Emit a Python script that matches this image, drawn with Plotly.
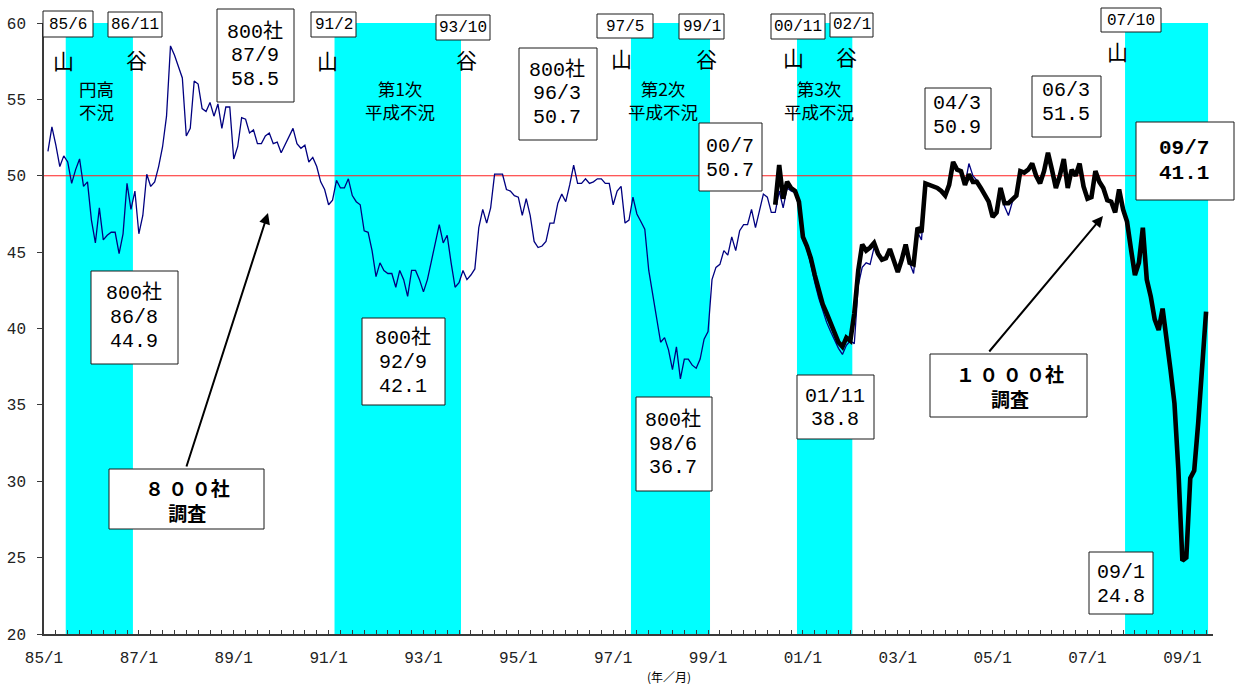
import plotly.graph_objects as go

# ---------------------------------------------------------------- data ----
# 800社調査 DI (monthly, first value = 85/2)
di_800_start = "85/2"
di_800 = [
    51.6, 53.2, 52.0, 50.6, 51.3, 50.9, 49.5, 50.4, 51.1, 49.3, 49.6,          # 1985
    47.1, 45.6, 47.9, 45.8, 46.1, 46.3, 46.3, 44.9, 46.2, 49.5, 47.8, 49.0,    # 1986
    46.2, 47.4, 50.1, 49.3, 49.6, 50.6, 51.9, 53.9, 58.5, 57.9, 57.1, 56.4,    # 1987
    52.6, 53.1, 56.2, 56.0, 54.4, 54.2, 54.8, 53.9, 54.7, 53.1, 54.5, 54.5,    # 1988
    51.1, 51.9, 53.8, 53.7, 52.8, 53.0, 52.1, 52.1, 52.6, 52.8, 52.1, 52.2,    # 1989
    51.5, 52.0, 52.6, 53.1, 52.1, 51.8, 52.0, 50.9, 51.2, 50.6, 49.6, 49.1,    # 1990
    48.1, 48.4, 49.7, 49.2, 49.2, 49.8, 48.7, 48.3, 48.1, 46.4, 46.3, 45.1,    # 1991
    43.4, 44.3, 43.8, 43.6, 43.6, 42.7, 43.8, 43.2, 42.1, 43.8, 43.8, 43.2,    # 1992
    42.4, 43.2, 44.4, 45.7, 46.8, 45.6, 46.1, 44.3, 42.7, 43.0, 43.8, 43.2,    # 1993
    43.5, 43.9, 46.6, 47.8, 46.9, 47.9, 50.1, 50.1, 50.1, 49.1, 49.0, 48.7,    # 1994
    48.6, 47.4, 48.5, 47.4, 45.7, 45.3, 45.4, 45.7, 46.9, 46.9, 48.2, 48.8,    # 1995
    48.3, 49.4, 50.7, 49.5, 49.5, 49.8, 49.5, 49.6, 49.8, 49.8, 49.5, 49.5,    # 1996
    48.1, 49.0, 49.3, 46.9, 47.1, 48.6, 47.5, 47.0, 46.5, 43.8, 42.3, 40.6,    # 1997
    39.1, 39.4, 38.6, 37.3, 38.8, 36.7, 38.0, 38.0, 37.6, 37.4, 38.0, 39.3,    # 1998
    39.8, 43.2, 44.0, 44.2, 45.1, 44.8, 46.0, 45.1, 46.4, 46.8, 46.8, 47.8,    # 1999
    46.6, 47.7, 48.8, 48.6, 47.6, 47.6, 49.0, 47.9, 49.2, 49.0, 48.9, 48.0,    # 2000
    45.8, 45.2, 44.2, 43.0, 42.0, 41.2, 40.4, 39.8, 39.2, 38.7, 38.3, 38.9,    # 2001
    39.2, 39.0, 42.8, 44.0, 44.3, 44.2, 45.3, 44.9, 44.5, 44.6, 45.2, 44.5,    # 2002
    43.7, 44.5, 45.5, 44.3, 43.6, 46.3, 45.8, 49.3, 49.4, 49.3, 49.2, 49.0,    # 2003
    48.7, 49.6, 50.9, 50.4, 50.3, 49.4, 50.8, 50.0, 49.7, 49.2, 48.7, 48.3,    # 2004
    47.3, 47.6, 49.2, 48.0, 47.4, 48.3, 48.7, 50.3, 50.2, 50.4, 50.8, 50.0,    # 2005
]

# 1000社調査 DI (monthly, first value = 00/6)
di_1000_start = "00/6"
di_1000 = [
    48.1, 50.7, 48.5, 49.6, 49.2, 49.0, 48.3,                                  # 2000
    46.0, 45.4, 44.6, 43.5, 42.4, 41.6, 41.0, 40.4, 39.7, 39.1, 38.8, 39.4,    # 2001
    39.2, 41.0, 43.8, 45.5, 45.1, 45.3, 45.6, 44.9, 44.5, 44.6, 45.2, 44.5,    # 2002
    43.7, 44.5, 45.5, 44.3, 44.2, 46.6, 46.3, 49.5, 49.4, 49.3, 49.2, 49.0,    # 2003
    48.7, 49.4, 50.9, 50.4, 50.3, 49.4, 50.1, 49.6, 49.6, 49.2, 48.7, 48.3,    # 2004
    47.3, 47.6, 49.2, 48.2, 48.2, 48.5, 48.7, 50.3, 50.2, 50.4, 50.8, 50.0,    # 2005
    49.5, 50.3, 51.5, 50.4, 49.2, 50.0, 51.1, 49.2, 50.4, 50.0, 50.8, 49.3,    # 2006
    48.5, 48.6, 50.3, 49.6, 49.2, 48.4, 48.3, 47.6, 49.1, 47.8, 47.0, 45.2,    # 2007
    43.5, 44.3, 46.6, 43.2, 42.1, 40.6, 39.9, 41.3, 39.5, 37.3, 35.1, 30.7,    # 2008
    24.8, 25.0, 30.2, 30.7, 33.8, 37.5, 41.1,                                  # 2009
]

# 景気の山(開始)・谷(終了): shaded recession periods
recession_start = ["85/6", "91/2", "97/5", "00/11", "07/10"]
recession_end = ["86/11", "93/10", "99/1", "02/1", "09/7"]

x_tick_labels = ["85/1", "87/1", "89/1", "91/1", "93/1", "95/1", "97/1",
                 "99/1", "01/1", "03/1", "05/1", "07/1", "09/1"]

Y_MIN, Y_MAX = 20, 60


def month_index(label):
    """'yy/m' -> months since 1985/1."""
    yy, mm = (int(v) for v in label.split("/"))
    year = 1900 + yy if yy >= 50 else 2000 + yy
    return (year - 1985) * 12 + (mm - 1)


x_800 = [month_index(di_800_start) + k for k in range(len(di_800))]
x_1000 = [month_index(di_1000_start) + k for k in range(len(di_1000))]

# ------------------------------------------------------------- layout ----
W, H = 1235, 684
ML, MT, MR, MB = 44, 23, 22, 50
PW, PH = W - ML - MR, H - MT - MB
X_END = 295.75

MONO = "Liberation Mono, Noto Sans CJK JP, monospace"
JP = "Noto Sans CJK JP, sans-serif"
AXIS_COLOR = "#3a3a3a"


def fx(px):
    return (px - ML) / PW


def fy(py):
    return (H - MB - py) / PH


fig = go.Figure()

fig.add_trace(go.Scatter(
    x=x_800, y=di_800, mode="lines", name="800社",
    line=dict(color="#000080", width=1.3),
    hoverinfo="skip",
))
fig.add_trace(go.Scatter(
    x=x_1000, y=di_1000, mode="lines", name="1000社",
    line=dict(color="#000000", width=4.6),
    hoverinfo="skip",
))

# recession bands
for s, e in zip(recession_start, recession_end):
    fig.add_shape(type="rect", xref="x", yref="y",
                  x0=month_index(s) + 0.5, x1=month_index(e) + 0.5,
                  y0=Y_MIN, y1=Y_MAX, fillcolor="#00FFFF",
                  line=dict(width=0), layer="below")

# 50 line
fig.add_shape(type="line", xref="x", yref="y", x0=0, x1=X_END, y0=50, y1=50,
              line=dict(color="#FF2020", width=1), layer="below")


def frame(x0, y0, x1, y1):
    fig.add_shape(type="rect", xref="paper", yref="paper",
                  x0=fx(x0), x1=fx(x1), y0=fy(y1), y1=fy(y0),
                  fillcolor="white", line=dict(color="#1a1a1a", width=1),
                  layer="above")


def text(t, cx, cy, size, family=MONO, bold=False, color="black"):
    fig.add_annotation(xref="paper", yref="paper", x=fx(cx), y=fy(cy),
                       text=f"<b>{t}</b>" if bold else t, showarrow=False,
                       xanchor="center", yanchor="middle", align="center",
                       font=dict(family=family, size=size, color=color))


# 山・谷 dates along the top
top_boxes = [
    ("85/6", 43, 11, 93, 37), ("86/11", 108, 12, 162, 37),
    ("91/2", 311, 12, 356, 37), ("93/10", 436, 15, 490, 40),
    ("97/5", 597, 14, 653, 38), ("99/1", 679, 14, 724, 39),
    ("00/11", 771, 14, 825, 39), ("02/1", 830, 13, 873, 37),
    ("07/10", 1101, 8, 1161, 32),
]
for t, x0, y0, x1, y1 in top_boxes:
    frame(x0, y0, x1, y1)
    text(t, (x0 + x1) / 2, (y0 + y1) / 2 + 0.5, 16)

turns = [("山", 63, 60), ("谷", 136, 59), ("山", 327, 60), ("谷", 466, 59),
         ("山", 621, 58), ("谷", 706, 58), ("山", 793, 57), ("谷", 846, 56),
         ("山", 1117, 51)]
for t, cx, cy in turns:
    text(t, cx, cy, 21, family=JP)

names = [("円高<br>不況", 96), ("第1次<br>平成不況", 400),
         ("第2次<br>平成不況", 663), ("第3次<br>平成不況", 819)]
for t, cx in names:
    text(t, cx, 100, 17.5, family=JP)

# value call-outs
callouts = [
    (["800社", "87/9", "58.5"], (217, 9, 294, 102), [32, 56, 80], 255),
    (["800社", "86/8", "44.9"], (91, 271, 178, 364), [293, 317, 341], 134),
    (["800社", "92/9", "42.1"], (362, 318, 445, 405), [338, 362, 386], 403),
    (["800社", "96/3", "50.7"], (519, 48, 597, 140), [70, 94, 118], 557),
    (["800社", "98/6", "36.7"], (636, 397, 712, 491), [420, 444, 468], 673),
    (["00/7", "50.7"], (699, 123, 762, 191), [146, 170], 730),
    (["01/11", "38.8"], (797, 375, 874, 439), [396, 420], 835),
    (["04/3", "50.9"], (925, 88, 991, 149), [103, 127], 957),
    (["06/3", "51.5"], (1032, 76, 1101, 137), [91, 115], 1066),
    (["09/1", "24.8"], (1089, 552, 1153, 614), [572, 596], 1121),
]
for lines, (x0, y0, x1, y1), ys, cx in callouts:
    frame(x0, y0, x1, y1)
    for t, cy in zip(lines, ys):
        text(t, cx, cy, 20)

frame(1136, 122, 1234, 200)
text("09/7", 1184, 148, 21, bold=True)
text("41.1", 1184, 174, 21, bold=True)

# survey labels with arrows
frame(109, 469, 264, 529)
text("８ ０ ０社<br>調査", 187, 500, 19, family=JP, bold=True)
frame(930, 354, 1087, 417)
text("１ ０ ０ ０社<br>調査", 1010, 386, 19, family=JP, bold=True)

for (tx, ty), (sx, sy) in [((268, 213), (186, 468)), ((1103, 216), (988, 353))]:
    fig.add_annotation(xref="paper", yref="paper", x=fx(tx), y=fy(ty),
                       ax=sx - tx, ay=sy - ty, axref="pixel", ayref="pixel",
                       text="", showarrow=True, arrowhead=2, arrowsize=1.1,
                       arrowwidth=2, arrowcolor="black", standoff=0)

text("(年／月)", 669, 676, 12, family=JP)

fig.update_layout(
    width=W, height=H,
    margin=dict(l=ML, r=MR, t=MT, b=MB, pad=0, autoexpand=False),
    paper_bgcolor="white", plot_bgcolor="white",
    showlegend=False,
    xaxis=dict(
        range=[0, X_END], showgrid=False, zeroline=False, automargin=False,
        showline=True, linecolor=AXIS_COLOR, linewidth=1.5,
        tickmode="array", tickvals=[month_index(t) for t in x_tick_labels],
        ticktext=x_tick_labels, ticks="inside", ticklen=4,
        tickcolor=AXIS_COLOR, tickwidth=1, ticklabelstandoff=8,
        tickfont=dict(family=MONO, size=16, color="#222"),
        minor=dict(tickmode="linear", tick0=0, dtick=3, ticks="inside",
                   ticklen=4, tickcolor=AXIS_COLOR, tickwidth=1, showgrid=False),
    ),
    yaxis=dict(
        range=[Y_MIN, Y_MAX], tick0=Y_MIN, dtick=5, showgrid=False,
        zeroline=False, automargin=False,
        showline=True, linecolor=AXIS_COLOR, linewidth=1.5,
        ticks="outside", ticklen=5, tickcolor=AXIS_COLOR, tickwidth=1,
        ticklabelstandoff=8,
        tickfont=dict(family=MONO, size=16, color="#222"),
    ),
)

fig.write_html("out.html")
